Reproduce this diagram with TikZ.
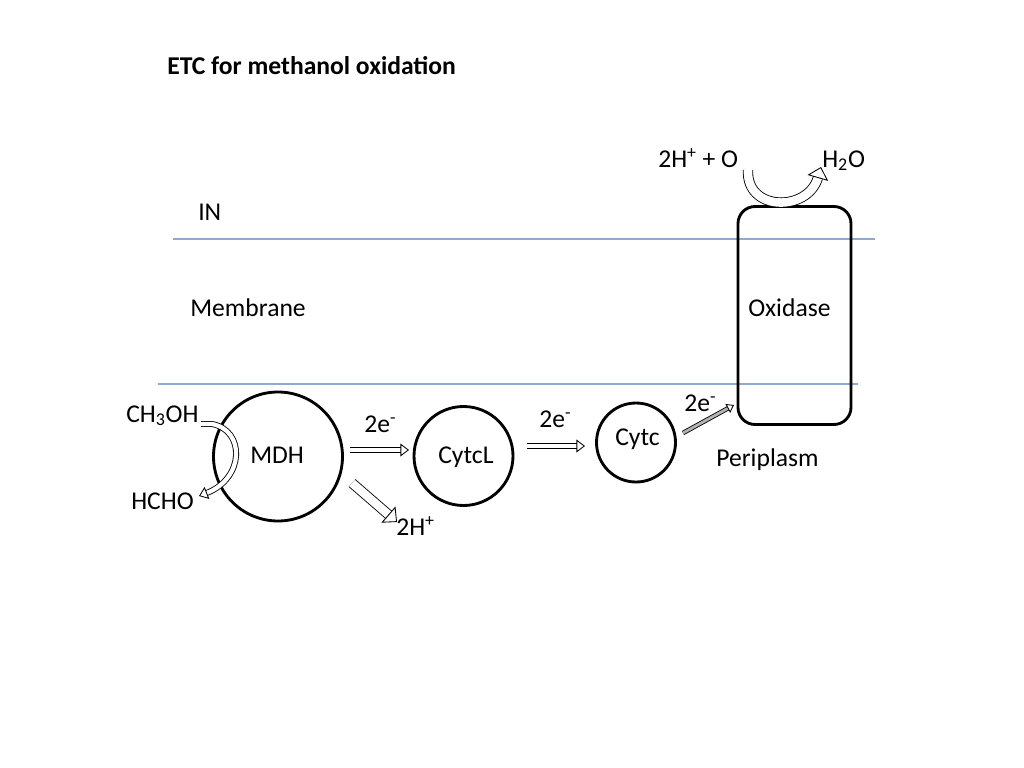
\documentclass[tikz,border=0pt]{standalone}
\usepackage{fontspec}
\setmainfont{Carlito}
\usetikzlibrary{arrows.meta}
\definecolor{memb}{RGB}{143,170,207}
\tikzset{
  lbl/.style={inner sep=0pt, anchor=base west, font=\fontsize{18}{21}\selectfont},
  ring/.style={draw, circle, line width=2pt, inner sep=0pt},
  mline/.style={draw=memb, line width=0.8pt},
  blockarr/.style={double=white, line width=0.6pt, double distance=3pt,
     -{Triangle[open, length=6pt, width=9pt]}},
  bigarr/.style={double=white, line width=0.6pt, double distance=6pt,
     -{Triangle[open, length=8pt, width=15pt]}},
  thinarr/.style={double=gray!60, line width=0.6pt, double distance=2pt,
     -{Triangle[open, length=5pt, width=7pt]}}
}
\begin{document}
\begin{tikzpicture}[x=0.703pt,y=-0.703pt]
\useasboundingbox (0,0) rectangle (1024,768);
% title
\node[lbl, font=\fontsize{18}{21}\selectfont\bfseries] (title) at (167,74) {ETC for methanol oxidation};
% membrane lines
\coordinate (l1a) at (173,239); \coordinate (l1b) at (875,239);
\coordinate (l2a) at (158,384); \coordinate (l2b) at (858,384);
\draw[mline] (l1a) -- (l1b);
\draw[mline] (l2a) -- (l2b);
\node[lbl] (in) at (198,220) {IN};
\node[lbl] (memtxt) at (190,316) {Membrane};
% oxidase
\node[draw, rounded corners=12pt, line width=2pt, minimum width=113*0.703pt, minimum height=218*0.703pt, inner sep=0pt] (ox) at (794.5,315.5) {};
\node[lbl] (oxtxt) at (748,316) {Oxidase};
% circles
\node[ring, minimum size=129*0.703pt] (mdh) at (278,456.5) {};
\node[lbl] (mdhtxt) at (250,463) {MDH};
\node[ring, minimum size=99*0.703pt] (cytcl) at (463.5,456) {};
\node[lbl] (cytcltxt) at (438,463) {CytcL};
\node[ring, minimum size=79*0.703pt] (cytc) at (636,442.5) {};
\node[lbl] (cytctxt) at (615,445) {Cytc};
% labels
\node[lbl] (ch3oh) at (126,422) {CH\textsubscript{3}OH};
\node[lbl] (hcho) at (131,509) {HCHO};
\node[lbl] (e1) at (364,432) {2e\textsuperscript{-}};
\node[lbl] (hp) at (396,535) {2H\textsuperscript{+}};
\node[lbl] (e2) at (539,427) {2e\textsuperscript{-}};
\node[lbl] (e3) at (684,411) {2e\textsuperscript{-}};
\node[lbl] (peri) at (716,466) {Periplasm};
\node[lbl] (hpo) at (658,167) {2H\textsuperscript{+} + O};
\node[lbl] (h2o) at (822,167) {H\textsubscript{2}O};
% arrows
\coordinate (a1s) at (350,450); \coordinate (a1e) at (409,450);
\draw[blockarr] (a1s) -- (a1e);
\coordinate (a3s) at (527,446); \coordinate (a3e) at (585,446);
\draw[blockarr] (a3s) -- (a3e);
\coordinate (a2s) at (352,483); \coordinate (a2e) at (397,522);
\draw[bigarr] (a2s) -- (a2e);
\coordinate (a4s) at (683,433); \coordinate (a4e) at (734,405);
\draw[thinarr] (a4s) -- (a4e);
% CH3OH -> HCHO curved arrow
\coordinate (cs) at (201,424); \coordinate (ce) at (199,496);
\draw[blockarr] (cs) -- (212,424) .. controls (245,430) and (245,478) .. (ce);
% top U arrow
\coordinate (us) at (748,170); \coordinate (ue) at (821,167);
\draw[bigarr] (us) .. controls (746,212) and (808,212) .. (ue);
\end{tikzpicture}
\end{document}
